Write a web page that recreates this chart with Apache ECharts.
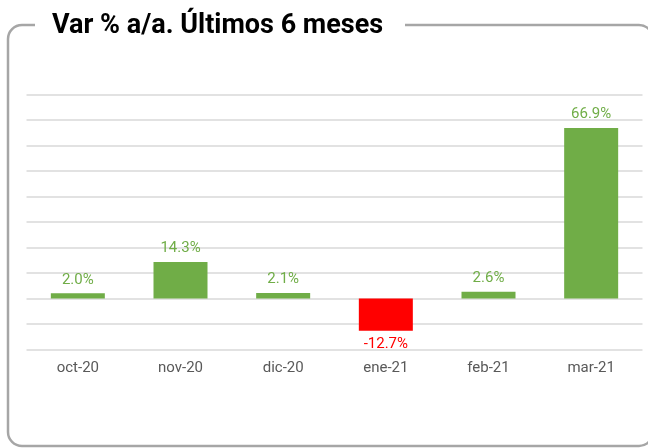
<!DOCTYPE html>
<html>
<head>
<meta charset="utf-8">
<script src="https://cdn.jsdelivr.net/npm/echarts@6/dist/echarts.min.js"></script>
<style>
  html, body { margin: 0; padding: 0; background: #fff; }
  #chart { width: 648px; height: 448px; }
</style>
</head>
<body>
<div id="chart"></div>
<script>
// datos
const meses = ['oct-20', 'nov-20', 'dic-20', 'ene-21', 'feb-21', 'mar-21'];
const variacion = [2.0, 14.3, 2.1, -12.7, 2.6, 66.9];
const titulo = 'Var % a/a. Últimos 6 meses';

const verde = '#70ad47';
const rojo = '#ff0000';

const chart = echarts.init(document.getElementById('chart'));

const option = {
  backgroundColor: '#fff',
  textStyle: { fontFamily: 'Roboto' },
  animation: false,
  graphic: [
    {
      // marco redondeado
      type: 'rect',
      shape: { x: 8, y: 25, width: 645, height: 421, r: 14 },
      style: { fill: 'none', stroke: '#a6a6a6', lineWidth: 2.5 },
      z: 0
    },
    {
      // hueco blanco del título sobre el marco
      type: 'rect',
      shape: { x: 35, y: 10, width: 370, height: 30 },
      style: { fill: '#fff' },
      z: 1
    },
    {
      type: 'text',
      left: 52,
      top: 13,
      style: {
        text: titulo,
        font: 'bold 27px Roboto',
        fill: '#000'
      },
      z: 2
    }
  ],
  grid: {
    left: 26.5,
    right: 5.5,
    top: 94.7,
    bottom: 98.7,
    containLabel: false
  },
  xAxis: {
    type: 'category',
    data: meses,
    axisLine: { show: false },
    axisTick: { show: false },
    axisLabel: {
      color: '#595959',
      fontSize: 15,
      margin: 11
    }
  },
  yAxis: {
    type: 'value',
    min: -20,
    max: 80,
    interval: 10,
    axisLabel: { show: false },
    axisLine: { show: false },
    axisTick: { show: false },
    splitLine: { lineStyle: { color: '#d9d9d9', width: 1.5 } }
  },
  series: [
    {
      type: 'bar',
      barWidth: 54,
      data: variacion.map(v => ({
        value: v,
        itemStyle: { color: v < 0 ? rojo : verde },
        label: {
          position: v < 0 ? 'bottom' : 'top',
          color: v < 0 ? rojo : verde
        }
      })),
      label: {
        show: true,
        fontSize: 15,
        distance: 6,
        formatter: p => p.value.toFixed(1) + '%'
      }
    }
  ]
};

chart.setOption(option);
</script>
</body>
</html>
